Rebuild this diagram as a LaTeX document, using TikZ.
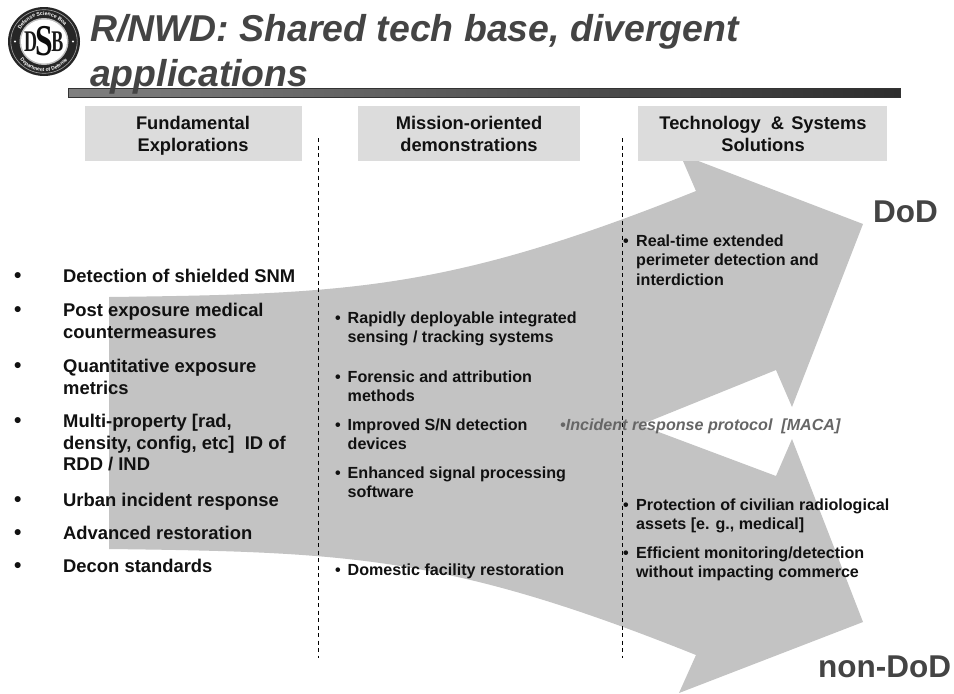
\documentclass[tikz,border=0pt]{standalone}
\usepackage{fontspec}
\setmainfont{Liberation Sans}
\newfontfamily\serifbold{Liberation Serif}
\usetikzlibrary{decorations.text}
\definecolor{flow}{HTML}{C3C3C3}
\definecolor{headfill}{HTML}{DCDCDC}
\definecolor{titlegray}{HTML}{444444}
\definecolor{inkc}{HTML}{111111}
\tikzset{
  flowshape/.style={fill=flow,draw=none},
  headbox/.style={fill=headfill,draw=none},
  headtext/.style={anchor=north,align=center,inner sep=0pt,text=inkc,font=\fontsize{18.3}{22}\selectfont\bfseries},
  divider/.style={black,line width=0.9pt,dash pattern=on 4pt off 3.5pt},
  titletext/.style={anchor=north west,align=left,inner sep=0pt,text=titlegray,font=\fontsize{37.4}{44.5}\selectfont\bfseries\itshape},
  bigtext/.style={anchor=base west,inner sep=0pt,text=titlegray,font=\fontsize{31.5}{36}\selectfont\bfseries},
  leftitem/.style={anchor=north west,align=left,inner sep=0pt,text=inkc,font=\fontsize{18.4}{21.9}\selectfont\bfseries},
  miditem/.style={anchor=north west,align=left,inner sep=0pt,text=inkc,font=\fontsize{16.1}{19.8}\selectfont\bfseries},
  dotmark/.style={anchor=base west,inner sep=0pt,text=inkc,font=\fontsize{16.1}{19.8}\selectfont\bfseries},
  bigdot/.style={anchor=base west,inner sep=0pt,text=inkc,font=\fontsize{21}{21}\selectfont\bfseries},
  greyitem/.style={anchor=base west,inner sep=0pt,text=black!60,font=\fontsize{16.1}{19}\selectfont\bfseries\itshape}
}
% name, bullet x, text x, first baseline, cap offset, style, text
\newcommand{\listentry}[7]{%
  \node[dotmark] (#1b) at (#2,#4) {•};
  \node[#6] (#1) at (#3,#4-#5) {#7};
}
\newcommand{\leftentry}[3]{%
  \node[bigdot] (#1b) at (14,#2) {•};
  \node[leftitem] (#1) at (63,#2-13.4) {#3};
}
\begin{document}
\begin{tikzpicture}[x=1pt,y=-1pt]
\useasboundingbox (0,0) rectangle (954,694);
\fill[white] (0,0) rectangle (954,694);

% flow arrows
\path[flowshape]
  (109,297) .. controls (350,294) and (449,290) .. (696,191)
  -- (680,154) -- (863,224) -- (792,407) -- (776,370) -- (640,425)
  -- (776,476) -- (792,439) -- (863,622) -- (679,693) -- (696,655)
  .. controls (449,556) and (350,552) .. (109,549) -- cycle;

% header boxes
\node[headbox,minimum width=217pt,minimum height=55pt,inner sep=0pt] (h1box) at (193.5,133.5) {};
\node[headbox,minimum width=222pt,minimum height=55pt,inner sep=0pt] (h2box) at (469,133.5) {};
\node[headbox,minimum width=249pt,minimum height=55pt,inner sep=0pt] (h3box) at (762.5,133.5) {};
\node[headtext] (h1) at (193,116) {Fundamental\\Explorations};
\node[headtext] (h2) at (469,116) {Mission-oriented\\demonstrations};
\node[headtext] (h3) at (763,116) {Technology\ \ \&\hspace{2pt} Systems\\Solutions};

% dashed dividers
\coordinate (d1a) at (318,138); \coordinate (d1b) at (318,658);
\coordinate (d2a) at (622,138); \coordinate (d2b) at (622,658);
\draw[divider] (d1a) -- (d1b);
\draw[divider] (d2a) -- (d2b);

% title rule
\draw[draw=black!80,line width=1pt,left color=black!50,right color=black!82] (68.5,88.5) rectangle (900,97);

% title
\node[titletext] (title) at (90,14.5) {R/NWD: Shared tech base, divergent\\applications};

% logo
\begin{scope}[shift={(44,41.5)},y=1pt]
  \fill[black!85] (0,0) ellipse (36 and 34.5);
  \draw[black!35,line width=0.6pt] (0,0) ellipse (33.2 and 31.8);
  \fill[black!25] (0,0) ellipse (24.5 and 23.5);
  \fill[white] (0,0) ellipse (23 and 22);
  \path[decorate,decoration={text along path,text align=center,
    text={|\fontsize{5.2}{6}\selectfont\bfseries\color{white}|Defense Science Board}}]
    (140:26) arc (140:40:26);
  \path[decorate,decoration={text along path,text align=center,
    text={|\fontsize{5}{6}\selectfont\bfseries\color{white}|Department of Defense}}]
    (212:30) arc (212:328:30);
  \fill[white] (-29,0) circle (1.1);
  \fill[white] (29,0) circle (1.1);
  \node[inner sep=0pt,text=black!90,font=\serifbold\bfseries\fontsize{30}{30}\selectfont,xscale=.6] (logoD) at (-13.5,0) {D};
  \node[inner sep=0pt,text=black!95,font=\serifbold\bfseries\fontsize{44}{44}\selectfont,xscale=.72] (logoS) at (0,0) {S};
  \node[inner sep=0pt,text=black!90,font=\serifbold\bfseries\fontsize{30}{30}\selectfont,xscale=.6] (logoB) at (13.5,0) {B};
\end{scope}

% left column
\leftentry{l1}{282}{Detection of shielded SNM}
\leftentry{l2}{316}{Post exposure medical\\countermeasures}
\leftentry{l3}{372}{Quantitative exposure\\metrics}
\leftentry{l4}{427}{Multi-property [rad,\\density, config, etc]\ \ ID of\\RDD / IND}
\leftentry{l5}{506}{Urban incident response}
\leftentry{l6}{539}{Advanced restoration}
\leftentry{l7}{572}{Decon standards}

% middle column
\def\lb{11.7}
\listentry{m1}{335}{347.5}{323}{\lb}{miditem}{Rapidly deployable integrated\\sensing / tracking systems}
\listentry{m2}{335}{347.5}{382}{\lb}{miditem}{Forensic and attribution\\methods}
\listentry{m3}{335}{347.5}{430}{\lb}{miditem}{Improved S/N detection\\devices}
\listentry{m4}{335}{347.5}{478}{\lb}{miditem}{Enhanced signal processing\\software}
\listentry{m5}{335}{347.5}{575}{\lb}{miditem}{Domestic facility restoration}

% right column
\listentry{r1}{623}{636}{246}{\lb}{miditem}{Real-time extended\\perimeter detection and\\interdiction}
\listentry{r2}{623}{636}{510}{\lb}{miditem}{Protection of civilian radiological\\assets [e. g., medical]}
\listentry{r3}{623}{636}{558}{\lb}{miditem}{Efficient monitoring/detection\\without impacting commerce}

% incident text
\node[greyitem] (inc) at (560,430) {•Incident response protocol\ \ [MACA]};

% outcome labels
\node[bigtext] (dod) at (873,222) {DoD};
\node[bigtext] (nondod) at (818,677) {non-DoD};
\end{tikzpicture}
\end{document}
